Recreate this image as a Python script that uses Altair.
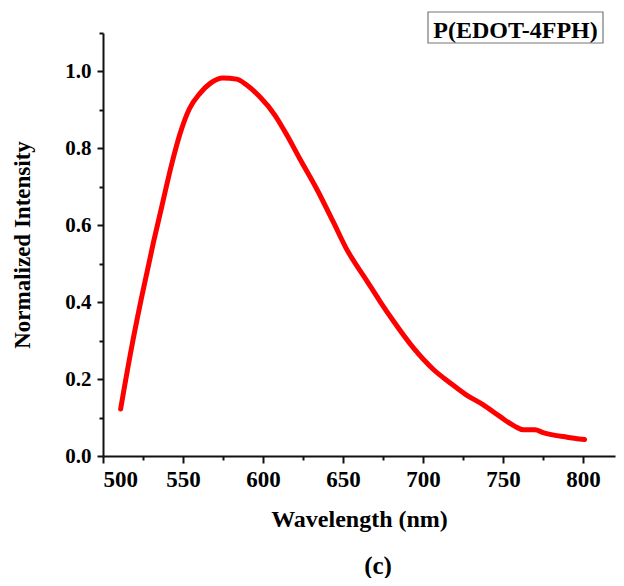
import altair as alt
import pandas as pd

# Emission spectrum
wavelength = [511, 518, 524, 531.5, 536.7, 543, 548, 554, 560.6, 567, 575, 583.5,
              590, 598, 607.5, 615, 623, 633.5, 644, 652, 665, 673, 681.5, 694,
              706.5, 717, 727, 737.7, 748, 757.5, 762.7, 770, 775, 790, 801]
intensity = [0.122, 0.285, 0.410, 0.555, 0.648, 0.760, 0.836, 0.903, 0.943, 0.969,
             0.983, 0.980, 0.964, 0.934, 0.886, 0.834, 0.773, 0.695, 0.608, 0.540,
             0.455, 0.403, 0.351, 0.281, 0.225, 0.190, 0.159, 0.133, 0.103, 0.077,
             0.068, 0.068, 0.061, 0.049, 0.043]

x_major = [500, 550, 600, 650, 700, 750, 800]
x_minor = [525, 575, 625, 675, 725, 775]
y_major = [0.0, 0.2, 0.4, 0.6, 0.8, 1.0]
y_minor = [0.1, 0.3, 0.5, 0.7, 0.9, 1.1]

legend_text = ["P(EDOT-4FPH)"]
panel_label = ["(c)"]

df = pd.DataFrame({"wl": wavelength, "val": intensity})

FONT = "Liberation Serif"
xscale = alt.Scale(domain=[500, 820], nice=False, zero=False)
yscale = alt.Scale(domain=[0, 1.1], nice=False, zero=True)

main = alt.Chart(df).mark_line(color="#ff0000", strokeWidth=5, strokeCap="round",
                               interpolate="monotone").encode(
    x=alt.X("wl:Q", scale=xscale,
            axis=alt.Axis(values=x_major, format="d", title="Wavelength (nm)",
                          orient="bottom", grid=False,
                          domainColor="#111", domainWidth=2,
                          tickColor="#111", tickWidth=2, tickSize=7,
                          labelFont=FONT, labelFontSize=23, labelFontWeight="bold",
                          labelColor="#000", labelPadding=5,
                          titleFont=FONT, titleFontSize=24, titleFontWeight="bold",
                          titleColor="#000", titlePadding=16)),
    y=alt.Y("val:Q", scale=yscale,
            axis=alt.Axis(values=y_major, format=".1f", title="Normalized Intensity",
                          orient="left", grid=False,
                          domainColor="#111", domainWidth=2,
                          tickColor="#111", tickWidth=2, tickSize=6,
                          labelFont=FONT, labelFontSize=21, labelFontWeight="bold",
                          labelColor="#000", labelPadding=6,
                          titleFont=FONT, titleFontSize=23, titleFontWeight="bold",
                          titleColor="#000", titlePadding=30)),
)

minor = alt.Chart(df).mark_line(opacity=0).encode(
    x=alt.X("wl:Q", scale=xscale,
            axis=alt.Axis(values=x_minor, labels=False, title=None, orient="bottom",
                          grid=False, domain=False, tickColor="#111", tickWidth=2,
                          tickSize=4)),
    y=alt.Y("val:Q", scale=yscale,
            axis=alt.Axis(values=y_minor, labels=False, title=None, orient="left",
                          grid=False, domain=False, tickColor="#111", tickWidth=2,
                          tickSize=4)),
)

box = alt.Chart(pd.DataFrame({"t": legend_text})).mark_rect(
    fill="white", stroke="#777", strokeWidth=1.2).encode(
    x=alt.value(325), x2=alt.value(500), y=alt.value(-21), y2=alt.value(10))

box_text = alt.Chart(pd.DataFrame({"t": legend_text})).mark_text(
    font=FONT, fontSize=24, fontWeight="bold", color="#000",
    align="center", baseline="alphabetic").encode(
    text="t:N", x=alt.value(412.5), y=alt.value(5))

label_c = alt.Chart(pd.DataFrame({"t": panel_label})).mark_text(
    font=FONT, fontSize=25, fontWeight="bold", color="#000",
    align="center", baseline="alphabetic").encode(
    text="t:N", x=alt.value(275), y=alt.value(541))

chart = alt.layer(minor, main, box, box_text, label_c).resolve_axis(
    x="independent", y="independent"
).properties(
    width=512, height=423,
    autosize=alt.AutoSizeParams(type="none"),
    padding={"left": 95, "top": 25, "right": 1, "bottom": 122},
    background="white",
).configure_view(stroke=None)

chart.save("out.html", embed_options={"renderer": "svg", "actions": False})
